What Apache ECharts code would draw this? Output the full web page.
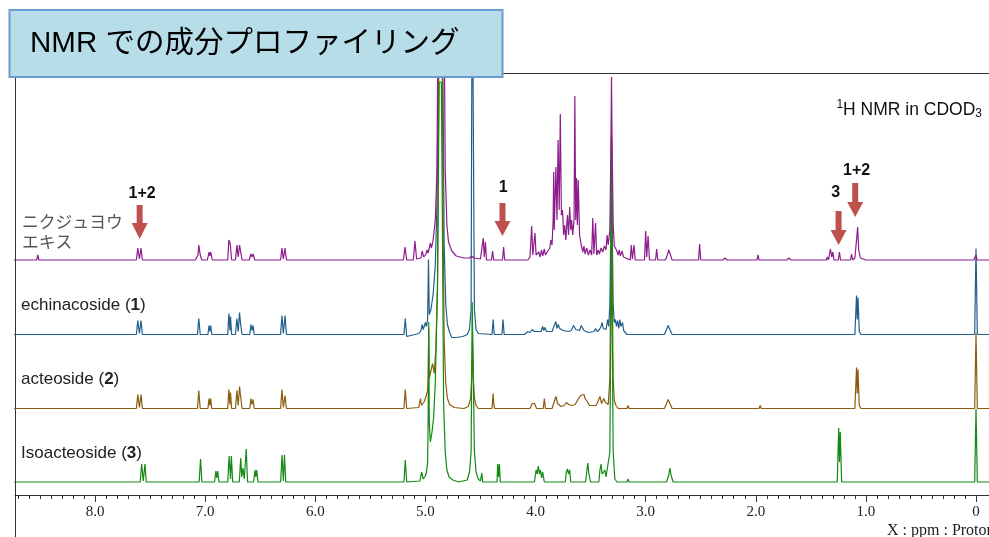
<!DOCTYPE html>
<html>
<head>
<meta charset="utf-8">
<script src="https://cdn.jsdelivr.net/npm/echarts@6/dist/echarts.min.js"></script>
<style>
html,body{margin:0;padding:0;background:#fff;}
#c{width:989px;height:537px;}
</style>
</head>
<body>
<div id="c"></div>
<script>
// ---------- axis ----------
const tickValues = [8, 7, 6, 5, 4, 3, 2, 1, 0];
const tickLabels = ['8.0', '7.0', '6.0', '5.0', '4.0', '3.0', '2.0', '1.0', '0'];
const ppmMin = -0.118, ppmMax = 8.727;

// ---------- spectra: [ppm, intensity] ----------
const extractSpec = [
[8.75,0],[8.53,0],[8.52,5],[8.51,0],
[7.625,0],[7.612,12],[7.597,1],[7.583,12],[7.57,0],
[7.36,0],[7.35,2],[7.34,0],
[7.09,0],[7.065,5],[7.058,15],[7.045,5],[7.03,0],
[6.98,0],[6.965,8],[6.958,4],[6.95,8],[6.935,0],
[6.795,0],[6.785,20],[6.772,16],[6.76,0],
[6.725,0],[6.712,15],[6.70,3],[6.688,15],[6.678,16],[6.665,0],
[6.6,0],[6.585,6],[6.575,3],[6.565,6],[6.55,0],
[6.315,0],[6.303,12],[6.29,1],[6.275,12],[6.262,0],
[5.2,0],[5.185,13],[5.17,0],
[5.11,0],[5.095,19],[5.08,1],
[5.04,2],[5.03,9],[5.015,3],[4.995,6],[4.985,10],[4.975,7],[4.955,17],[4.945,12],
[4.93,20],[4.91,40],[4.895,90],[4.885,250],[4.875,400],[4.84,400],[4.83,250],[4.82,90],[4.805,35],[4.79,18],[4.76,9],[4.72,4],[4.65,2],
[4.6,2],[4.58,4],[4.56,2],[4.5,1],
[4.485,0],[4.475,22],[4.465,3],[4.455,18],[4.445,0],
[4.40,0],[4.39,9],[4.38,0],
[4.30,0],[4.29,13],[4.28,0],
[4.07,0],[4.05,3],[4.035,34],[4.025,5],[4.005,27],[3.995,5],
[3.97,8],[3.96,3],[3.945,10],[3.935,4],[3.92,11],[3.91,5],[3.895,8],
[3.87,12],[3.86,20],[3.85,15],[3.84,40],[3.835,88],[3.83,30],[3.815,93],[3.805,40],[3.795,120],[3.785,50],[3.775,146],[3.765,45],[3.755,50],[3.745,25],
[3.735,35],[3.725,20],[3.71,45],[3.70,25],[3.69,53],[3.68,30],[3.672,40],[3.662,25],[3.65,40],[3.643,164],[3.635,40],[3.628,82],[3.62,35],[3.612,80],[3.60,25],
[3.585,15],[3.57,8],[3.56,14],[3.55,6],[3.535,12],[3.52,5],[3.505,10],
[3.49,5],[3.48,42],[3.47,6],[3.455,37],[3.445,5],
[3.43,10],[3.42,6],[3.405,12],[3.39,8],[3.375,14],[3.36,10],[3.35,25],[3.34,15],
[3.325,30],[3.315,120],[3.31,183],[3.305,120],[3.295,37],[3.285,14],
[3.265,10],[3.25,5],[3.24,10],[3.23,4],[3.215,9],[3.2,3],[3.18,2],
[3.14,0],[3.13,15],[3.12,1],[3.105,15],[3.095,0],
[3.01,0],[3.0,29],[2.99,3],[2.978,24],[2.965,0],
[2.91,0],[2.90,11],[2.89,0],
[2.82,0],[2.80,6],[2.79,10],[2.78,7],[2.76,0],
[2.52,0],[2.51,16],[2.50,0],
[2.3,0],[2.28,2],[2.26,0],
[1.99,0],[1.98,5],[1.97,0],
[1.72,0],[1.70,2],[1.68,0],
[1.36,0],[1.35,3],[1.34,0],
[1.33,0],[1.322,11],[1.31,3],[1.30,8],[1.29,0],
[1.25,0],[1.24,8],[1.23,0],
[1.14,0],[1.13,6],[1.12,0],
[1.10,2],[1.085,20],[1.075,33],[1.065,10],[1.05,2],[1.0,0],
[0.02,0],[0.0,5],[-0.01,0],[-0.12,0]
];

const echinacosideSpec = [
[8.75,0],
[7.625,0],[7.612,14],[7.597,1],[7.583,14],[7.57,0],
[7.07,0],[7.058,16],[7.045,0],
[6.975,0],[6.965,9],[6.957,3],[6.95,9],[6.94,0],
[6.795,0],[6.785,21],[6.775,4],[6.77,18],[6.76,0],
[6.725,0],[6.712,16],[6.70,3],[6.688,22],[6.678,10],[6.665,0],
[6.595,0],[6.585,10],[6.575,4],[6.565,9],[6.555,0],
[6.315,0],[6.303,19],[6.29,1],[6.275,19],[6.262,0],
[5.195,0],[5.183,16],[5.17,-2],[5.16,0],
[5.06,1],[5.04,4],[5.03,10],[5.02,5],[5.01,7],[5.0,12],[4.99,8],
[4.98,15],[4.972,75],[4.965,20],
[4.95,25],[4.93,40],[4.91,70],[4.895,130],[4.88,300],[4.87,400],[4.85,400],[4.84,250],[4.83,90],[4.815,30],[4.80,10],[4.78,2],[4.76,-3],[4.72,-3],[4.66,-2],[4.62,0],
[4.60,5],[4.585,25],[4.575,400],[4.565,400],[4.555,25],[4.54,5],[4.52,1],
[4.395,0],[4.385,15],[4.375,0],
[4.305,0],[4.295,15],[4.285,0],
[4.1,0],[4.07,3],[4.05,2],[4.03,5],[4.01,3],
[3.95,3],[3.935,8],[3.925,4],[3.915,7],[3.90,3],
[3.85,3],[3.84,6],[3.825,5],[3.815,13],[3.805,6],[3.795,10],[3.78,6],[3.765,8],[3.75,4],
[3.7,3],[3.69,5],[3.675,4],
[3.665,5],[3.655,9],[3.645,10],[3.635,5],
[3.6,4],[3.585,9],[3.575,10],[3.56,4],
[3.54,3],[3.52,2],
[3.47,3],[3.455,6],[3.44,3],
[3.42,5],[3.405,8],[3.395,12],[3.385,6],[3.37,8],[3.36,5],[3.345,15],[3.335,8],
[3.325,30],[3.315,120],[3.31,198],[3.305,120],[3.295,30],
[3.285,12],[3.275,15],[3.265,8],[3.255,14],[3.245,6],[3.235,15],[3.225,8],[3.21,12],[3.2,4],[3.19,6],[3.17,0],
[2.83,0],[2.81,5],[2.795,9],[2.78,5],[2.76,0],
[1.10,0],[1.085,39],[1.078,15],[1.072,37],[1.06,3],[1.045,0],
[0.012,0],[0.0,86],[-0.012,0],[-0.12,0]
];

const acteosideSpec = [
[8.75,0],
[7.625,0],[7.612,14],[7.597,1],[7.583,14],[7.57,0],
[7.07,0],[7.058,18],[7.045,0],
[6.975,0],[6.965,10],[6.957,3],[6.95,10],[6.94,0],
[6.795,0],[6.785,19],[6.775,4],[6.77,16],[6.76,0],
[6.725,0],[6.712,18],[6.70,3],[6.688,22],[6.678,12],[6.665,0],
[6.595,0],[6.585,10],[6.575,4],[6.565,9],[6.555,0],
[6.315,0],[6.303,19],[6.29,1],[6.275,13],[6.262,0],
[5.195,0],[5.183,19],[5.17,0],
[5.06,1],[5.045,10],[5.035,3],[5.015,6],[5.0,10],[4.99,14],[4.98,18],
[4.975,30],[4.97,80],[4.965,30],
[4.95,30],[4.935,45],[4.92,35],[4.905,60],[4.89,120],[4.875,400],[4.85,400],[4.84,200],[4.83,70],[4.815,25],[4.80,10],[4.78,4],[4.74,1],[4.65,0],
[4.61,2],[4.59,10],[4.58,30],[4.572,67],[4.565,30],[4.555,10],[4.54,3],[4.52,0],
[4.395,0],[4.385,15],[4.378,3],[4.37,0],
[4.05,0],[4.03,5],[4.02,3],[4.01,5],[3.99,0],
[3.93,0],[3.92,10],[3.91,0],
[3.85,0],[3.83,7],[3.815,12],[3.80,5],[3.785,7],[3.77,2],
[3.74,3],[3.72,6],[3.70,4],[3.685,6],[3.67,3],
[3.64,4],[3.62,8],[3.605,10],[3.59,13],[3.575,11],[3.56,14],[3.55,10],[3.54,12],[3.525,6],[3.51,3],
[3.45,3],[3.43,8],[3.415,12],[3.40,5],[3.38,10],[3.365,6],[3.35,8],[3.34,4],
[3.325,30],[3.315,150],[3.31,272],[3.305,150],[3.295,30],[3.285,8],[3.27,3],[3.25,0],
[3.17,0],[3.16,3],[3.15,0],
[2.83,0],[2.81,5],[2.795,9],[2.78,5],[2.76,0],
[1.97,0],[1.96,3],[1.95,0],
[1.26,0],[1.25,1],[1.24,0],
[1.10,0],[1.085,41],[1.078,15],[1.072,39],[1.06,3],[1.045,0],
[0.012,0],[0.0,75],[-0.012,0],[-0.12,0]
];

const isoacteosideSpec = [
[8.75,0],
[7.59,0],[7.577,18],[7.562,1],[7.547,18],[7.535,0],
[7.055,0],[7.042,23],[7.03,0],
[6.915,0],[6.903,11],[6.895,4],[6.886,11],[6.875,0],
[6.795,0],[6.782,26],[6.77,3],[6.762,26],[6.75,0],
[6.69,0],[6.677,24],[6.668,5],[6.657,14],[6.645,3],[6.627,33],[6.615,0],
[6.56,0],[6.547,12],[6.54,5],[6.532,12],[6.52,0],
[6.315,0],[6.302,27],[6.29,1],[6.28,27],[6.268,0],
[5.195,0],[5.183,22],[5.17,0],
[5.05,1],[5.035,10],[5.02,3],[5.0,6],[4.99,10],[4.98,20],
[4.975,60],[4.97,160],[4.965,60],
[4.955,40],[4.94,50],[4.925,65],[4.91,100],[4.89,200],[4.875,400],[4.855,400],[4.845,250],[4.835,80],[4.82,30],[4.805,12],[4.785,5],[4.75,2],[4.70,0],
[4.62,2],[4.60,10],[4.585,30],[4.575,180],[4.565,180],[4.555,30],[4.54,10],[4.52,3],[4.50,1],
[4.495,0],[4.488,9],[4.48,0],
[4.35,0],[4.343,18],[4.335,5],[4.328,18],[4.32,0],
[4.01,0],[3.995,12],[3.985,8],[3.975,16],[3.965,8],[3.955,12],[3.945,4],[3.935,10],[3.92,0],
[3.73,0],[3.72,10],[3.71,13],[3.70,8],[3.69,12],[3.68,0],
[3.545,0],[3.535,10],[3.525,19],[3.515,8],[3.50,0],
[3.425,0],[3.415,12],[3.405,18],[3.395,8],[3.38,10],[3.37,12],[3.36,5],[3.345,4],
[3.325,30],[3.315,180],[3.31,346],[3.305,180],[3.295,30],[3.28,3],[3.26,0],
[3.17,0],[3.16,3],[3.15,0],
[2.81,0],[2.79,7],[2.78,14],[2.77,7],[2.75,0],
[1.26,0],[1.247,54],[1.24,20],[1.233,50],[1.22,0],
[1.18,0],[1.17,2],[1.16,0],
[0.012,0],[0.0,73],[-0.012,0],[-0.12,0]
];

// stacking offsets (intensity units) for each trace
const spectrumNames = ['echinacoside (1)', 'acteoside (2)', 'Isoacteoside (3)', 'ニクジュヨウエキス'];
const spectrumData = [echinacosideSpec, acteosideSpec, isoacteosideSpec, extractSpec];
const spectrumOffsets = [160.5, 86.5, 13, 235];
const spectrumColors = ['#1F5F8C', '#8A5C0C', '#128A12', '#8C1C8C'];

// annotation arrows
const arrowPpm = [7.595, 4.30, 1.248, 1.097];
const arrowLabels = ['1+2', '1', '3', '1+2'];

const chart = echarts.init(document.getElementById('c'), null, {renderer: 'canvas'});

const minorTicks = [];
for (let i = 0; i <= 87; i++) minorTicks.push(i / 10);

function labelFor(v) {
  for (let i = 0; i < tickValues.length; i++) if (Math.abs(tickValues[i] - v) < 1e-6) return tickLabels[i];
  return '';
}

const series = spectrumData.map((pts, i) => ({
  type: 'line',
  name: spectrumNames[i],
  xAxisIndex: 0,
  yAxisIndex: 0,
  showSymbol: false,
  symbol: 'none',
  silent: true,
  animation: false,
  clip: true,
  lineStyle: {color: spectrumColors[i], width: 1.2},
  data: pts.map(p => [p[0], p[1] + spectrumOffsets[i]])
}));

chart.setOption({
  animation: false,
  backgroundColor: '#fff',
  grid: {left: 15, right: 0, top: 73, bottom: 42, containLabel: false},
  xAxis: [
    {type: 'value', position: 'bottom', min: ppmMin, max: ppmMax, inverse: true,
     axisLine: {show: true, onZero: false, lineStyle: {color: '#333', width: 1}},
     axisTick: {show: true, customValues: tickValues, length: 7, lineStyle: {color: '#333'}},
     axisLabel: {show: true, customValues: tickValues, formatter: v => labelFor(v), fontFamily: 'Liberation Serif', fontSize: 15, color: '#222', margin: 10},
     splitLine: {show: false}},
    {type: 'value', position: 'bottom', min: ppmMin, max: ppmMax, inverse: true,
     axisLine: {show: false, onZero: false},
     axisTick: {show: true, customValues: minorTicks, length: 4, lineStyle: {color: '#333'}},
     axisLabel: {show: false}, splitLine: {show: false}},
    {type: 'value', position: 'top', min: ppmMin, max: ppmMax, inverse: true,
     axisLine: {show: true, onZero: false, lineStyle: {color: '#333', width: 1}},
     axisTick: {show: false}, axisLabel: {show: false}, splitLine: {show: false}}
  ],
  yAxis: [{type: 'value', min: 0, max: 422, position: 'left',
     axisLine: {show: true, onZero: false, lineStyle: {color: '#333', width: 1}},
     axisTick: {show: false}, axisLabel: {show: false}, splitLine: {show: false}}],
  series: series
});

// ---------- overlay graphics ----------
const g = [];
// left axis extension below the x axis
g.push({type: 'line', shape: {x1: 15.5, y1: 495, x2: 15.5, y2: 537}, style: {stroke: '#333', lineWidth: 1}, z: 10});

// arrows
const arrowLayout = [
  {top: 205, head: 223, tip: 239, ly: 194, dx: 2.5},
  {top: 203, head: 221, tip: 236, ly: 188, dx: 0.6},
  {top: 211, head: 230, tip: 245, ly: 193, dx: -3},
  {top: 183, head: 202, tip: 217, ly: 171, dx: 1.4}
];
arrowPpm.forEach((p, i) => {
  const x = chart.convertToPixel({xAxisIndex: 0}, p);
  const L = arrowLayout[i];
  g.push({type: 'polygon', z: 20, shape: {points: [
    [x - 3, L.top], [x + 3, L.top], [x + 3, L.head], [x + 8, L.head], [x, L.tip], [x - 8, L.head], [x - 3, L.head]
  ]}, style: {fill: '#C0504D'}});
  g.push({type: 'text', z: 20, x: x + L.dx, y: L.ly, style: {text: arrowLabels[i], font: 'bold 16px "Liberation Sans", Arial', fill: '#111', align: 'center', verticalAlign: 'middle'}});
});

// trace labels
g.push({type: 'text', z: 20, x: 22, y: 222, style: {text: 'ニクジュヨウ', font: '16.8px "Noto Sans CJK JP"', fill: '#555', verticalAlign: 'middle'}});
g.push({type: 'text', z: 20, x: 22, y: 242, style: {text: 'エキス', font: '16.8px "Noto Sans CJK JP"', fill: '#555', verticalAlign: 'middle'}});
const nameParts = [['echinacoside (', '1', ')'], ['acteoside (', '2', ')'], ['Isoacteoside (', '3', ')']];
const nameY = [305, 379, 453];
nameParts.forEach((np, i) => {
  g.push({type: 'text', z: 20, x: 21, y: nameY[i], style: {
    text: '{n|' + np[0] + '}{b|' + np[1] + '}{n|' + np[2] + '}',
    verticalAlign: 'middle',
    rich: {
      n: {font: '17px "Liberation Sans", Arial', fill: '#222'},
      b: {font: 'bold 17px "Liberation Sans", Arial', fill: '#222'}
    }}});
});

// solvent note
g.push({type: 'text', z: 20, x: 982, y: 110, style: {
  text: '{s|1}{n|H NMR in CDOD}{d|3}', align: 'right', verticalAlign: 'middle',
  rich: {
    s: {font: '12px "Liberation Sans", Arial', fill: '#111', verticalAlign: 'top', lineHeight: 22, padding: [0, 0, 9, 0]},
    n: {font: '17.5px "Liberation Sans", Arial', fill: '#111', lineHeight: 22},
    d: {font: '12px "Liberation Sans", Arial', fill: '#111', lineHeight: 22, padding: [7, 0, 0, 0]}
  }}});

// x axis title
g.push({type: 'text', z: 20, x: 887, y: 531, style: {text: 'X : ppm : Proton', font: '16px "Liberation Serif", "Times New Roman"', fill: '#222', verticalAlign: 'middle'}});

// title box
g.push({type: 'rect', z: 30, shape: {x: 9.5, y: 10, width: 493, height: 67}, style: {fill: '#B7DDE8', stroke: '#6A9BD3', lineWidth: 2}});
g.push({type: 'text', z: 31, x: 30, y: 44, style: {text: 'NMR での成分プロファイリング', font: '29.5px "Liberation Sans", "Noto Sans CJK JP"', fill: '#000', verticalAlign: 'middle'}});

chart.setOption({graphic: g});
</script>
</body>
</html>
